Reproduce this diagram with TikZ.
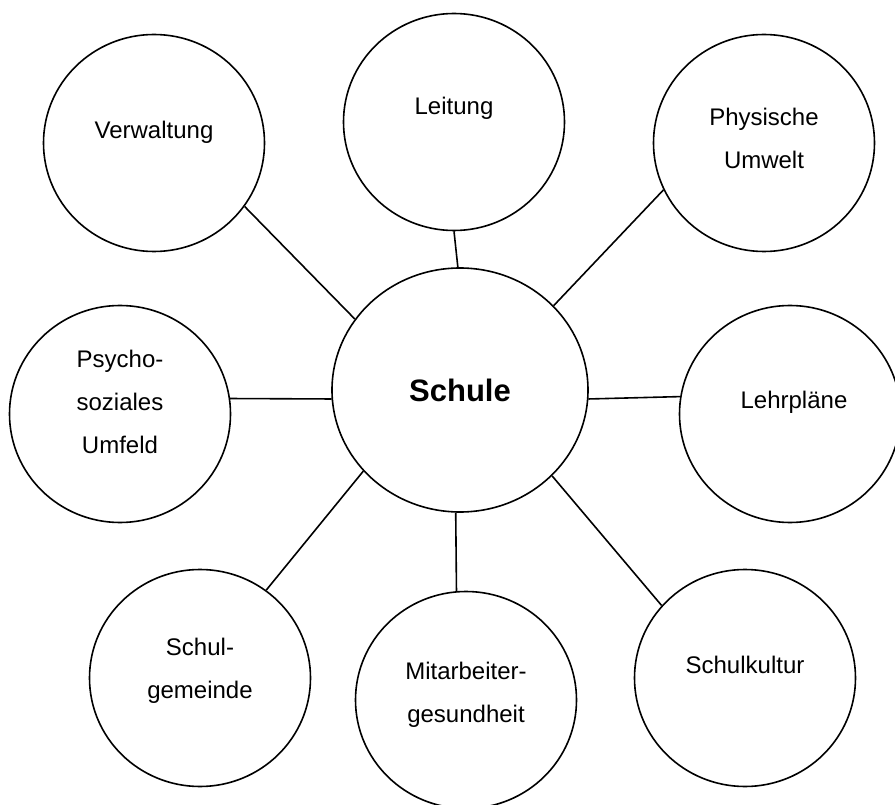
\documentclass[tikz,border=0pt]{standalone}
\usepackage{fontspec}
\setmainfont{Liberation Sans}
\usetikzlibrary{shapes.geometric}

\tikzset{
  bubble/.style={draw, ellipse, line width=1.6pt, inner sep=0pt,
    minimum width=221pt, minimum height=217pt},
  hub/.style={bubble, minimum width=256pt, minimum height=244pt,
    font=\bfseries\fontsize{31}{37}\selectfont},
  txt/.style={align=center, font=\fontsize{24}{43}\selectfont},
  link/.style={line width=1.6pt},
}

\begin{document}
\begin{tikzpicture}[x=1pt, y=-1pt]
  \useasboundingbox (0,0) rectangle (895,805);

  % Centre
  \node[hub] (schule) at (460,390) {Schule};

  % Upper bubbles
  \node[bubble, label={[txt,yshift=11]center:Verwaltung}] (verw) at (154,143) {};
  \node[bubble, label={[txt,yshift=14]center:Leitung}] (leit) at (454,122) {};
  \node[bubble, label={[txt,yshift=5]center:Physische\\Umwelt}] (phys) at (764,143) {};

  % Middle bubbles
  \node[bubble, label={[txt,yshift=12]center:Psycho-\\soziales\\Umfeld}] (psych) at (120,414) {};
  \node[bubble, label={[txt,yshift=12,xshift=4]center:Lehrpläne}] (lehr) at (790,414) {};

  % Lower bubbles
  \node[bubble, label={[txt,yshift=7]center:Schul-\\gemeinde}] (gem) at (200,678) {};
  \node[bubble, label={[txt,yshift=5]center:Mitarbeiter-\\gesundheit}] (mit) at (466,700) {};
  \node[bubble, label={[txt,yshift=13]center:Schulkultur}] (kult) at (745,678) {};

  % Links
  \draw[link] (schule.146) -- (verw.-35);
  \draw[link] (schule.91) -- (leit.-90);
  \draw[link] (schule.42) -- (phys.205);
  \draw[link] (schule.184) -- (psych.8);
  \draw[link] (schule.-4) -- (lehr.171);
  \draw[link] (schule.220) -- (gem.53);
  \draw[link] (schule.268) -- (mit.95);
  \draw[link] (schule.-43) -- (kult.139);

\end{tikzpicture}
\end{document}
